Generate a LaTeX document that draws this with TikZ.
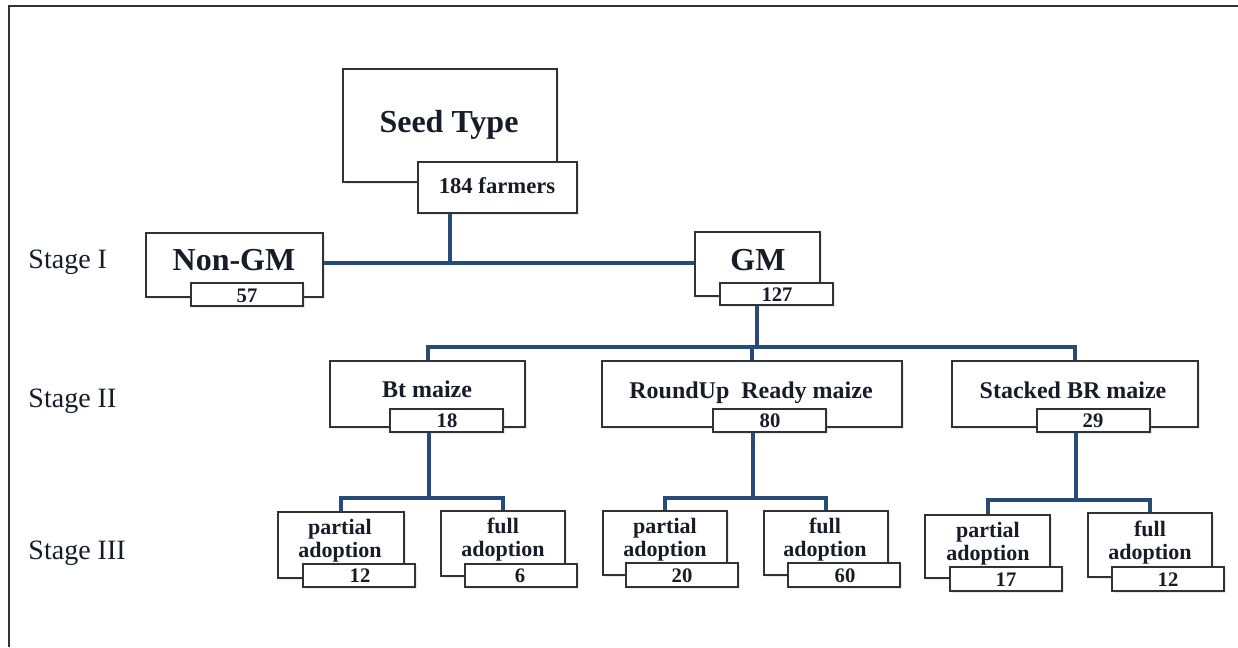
\documentclass[tikz,border=0pt]{standalone}
\usepackage{fontspec}
\setmainfont{Liberation Serif}
\usetikzlibrary{fit,backgrounds,shadows}
\definecolor{linkblue}{RGB}{38,74,122}
\definecolor{boxgray}{RGB}{50,50,50}
\definecolor{ink}{RGB}{22,28,40}
\tikzset{every picture/.style={line width=0.75pt}}
\tikzset{
  box/.style={draw=boxgray, line width=1.5pt, fill=white, inner sep=0pt,
    drop shadow={shadow xshift=1.5pt, shadow yshift=-1.5pt, opacity=0.18}},
  link/.style={draw=linkblue, line width=3pt},
  big/.style={anchor=base, inner sep=0.75pt, text=ink, font=\fontsize{24}{28}\selectfont\bfseries},
  mid/.style={anchor=base, inner sep=0.75pt, text=ink, font=\fontsize{18}{21}\selectfont\bfseries},
  small/.style={inner sep=0.75pt, text=ink, align=center, font=\fontsize{16.5}{17.25}\selectfont\bfseries},
  num/.style={anchor=base, inner sep=0.75pt, text=ink, font=\fontsize{15.5}{18}\selectfont\bfseries},
  stage/.style={anchor=base west, inner sep=0.75pt, text=ink, font=\fontsize{21}{24}\selectfont}
}

\begin{document}
\begin{tikzpicture}[x=0.75pt,y=0.75pt,yscale=-1,xscale=1]
\useasboundingbox (0,0) rectangle (1238,647);

%Frame
\draw[line width=1.5pt, draw=boxgray] (9,647) -- (9,6) -- (1238,6);

%Top
\node[box, fit={(343,69) (557,182)}] (seed) {};
\node[box, fit={(418,162) (577,213)}] (farmers) {};
\node[big] (seed-t) at (449,132) {Seed Type};
\node[mid, font=\fontsize{17}{20}\selectfont\bfseries] (farmers-t) at (497,193) {184 farmers};

%Stage I
\node[box, fit={(146,233) (323,297)}] (nongm) {};
\node[box, fit={(191,283) (303,306)}] (n57) {};
\node[box, fit={(695,232) (820,296)}] (gm) {};
\node[box, fit={(720,283) (833,305)}] (n127) {};
\node[big] (nongm-t) at (234,270) {Non-GM};
\node[num] (n57-t) at (247,302) {57};
\node[big] (gm-t) at (758,270) {GM};
\node[num] (n127-t) at (777,301) {127};

%Stage II
\node[box, fit={(330,361) (525,427)}] (bt) {};
\node[box, fit={(390,409) (503,432)}] (n18) {};
\node[box, fit={(602,361) (902,427)}] (rr) {};
\node[box, fit={(713,409) (826,432)}] (n80) {};
\node[box, fit={(952,361) (1198,427)}] (sbr) {};
\node[box, fit={(1037,409) (1150,432)}] (n29) {};
\node[mid] (bt-t) at (427,397) {Bt maize};
\node[num] (n18-t) at (447,427) {18};
\node[mid] (rr-t) at (751,398) {RoundUp\ \ Ready maize};
\node[num] (n80-t) at (770,427) {80};
\node[mid] (sbr-t) at (1073,398) {Stacked BR maize};
\node[num] (n29-t) at (1093,427) {29};

%Stage III
\node[box, fit={(278,512) (404,578)}] (btpart) {};
\node[box, fit={(303,564) (415,587)}] (n12a) {};
\node[box, fit={(441,511) (565,576)}] (btfull) {};
\node[box, fit={(465,564) (577,587)}] (n6) {};
\node[box, fit={(603,511) (727,575)}] (rrpart) {};
\node[box, fit={(626,563) (738,587)}] (n20) {};
\node[box, fit={(764,511) (888,575)}] (rrfull) {};
\node[box, fit={(788,563) (900,587)}] (n60) {};
\node[box, fit={(925,515) (1050,578)}] (sbrpart) {};
\node[box, fit={(950,567) (1062,591)}] (n17) {};
\node[box, fit={(1088,513) (1212,577)}] (sbrfull) {};
\node[box, fit={(1112,567) (1224,591)}] (n12b) {};
\node[small] (btpart-t) at (340,541) {partial\\adoption};
\node[num] (n12a-t) at (360,582) {12};
\node[small] (btfull-t) at (503,540) {full\\adoption};
\node[num] (n6-t) at (520,582) {6};
\node[small] (rrpart-t) at (665,540) {partial\\adoption};
\node[num] (n20-t) at (682,582) {20};
\node[small] (rrfull-t) at (825,540) {full\\adoption};
\node[num] (n60-t) at (845,582) {60};
\node[small] (sbrpart-t) at (988,544) {partial\\adoption};
\node[num] (n17-t) at (1006,586) {17};
\node[small] (sbrfull-t) at (1150,543) {full\\adoption};
\node[num] (n12b-t) at (1168,586) {12};

%Stage labels
\node[stage] (st1) at (27,268) {Stage I};
\node[stage] (st2) at (27,407) {Stage II};
\node[stage] (st3) at (27,559) {Stage III};

%Connectors
\begin{pgfonlayer}{background}
\coordinate (j0) at (450,263);
\draw[link] (j0 |- farmers.south) -- (j0);
\draw[link] (nongm.east |- j0) -- (gm.west |- j0);
\coordinate (j1) at (757,347);
\draw[link] (j1 |- n127.south) -- (j1);
\draw[link] (bt.north) |- (j1) -| (sbr.north);
\draw[link] (rr.north) -- (rr.north |- j1);
\coordinate (j2) at (429,498);
\draw[link] (j2 |- n18.south) -- (j2);
\draw[link] (btpart.north) |- (j2) -| (btfull.north);
\coordinate (j3) at (753,498);
\draw[link] (j3 |- n80.south) -- (j3);
\draw[link] (rrpart.north) |- (j3) -| (rrfull.north);
\coordinate (j4) at (1076,500);
\draw[link] (j4 |- n29.south) -- (j4);
\draw[link] (sbrpart.north) |- (j4) -| (sbrfull.north);
\end{pgfonlayer}

\end{tikzpicture}
\end{document}
